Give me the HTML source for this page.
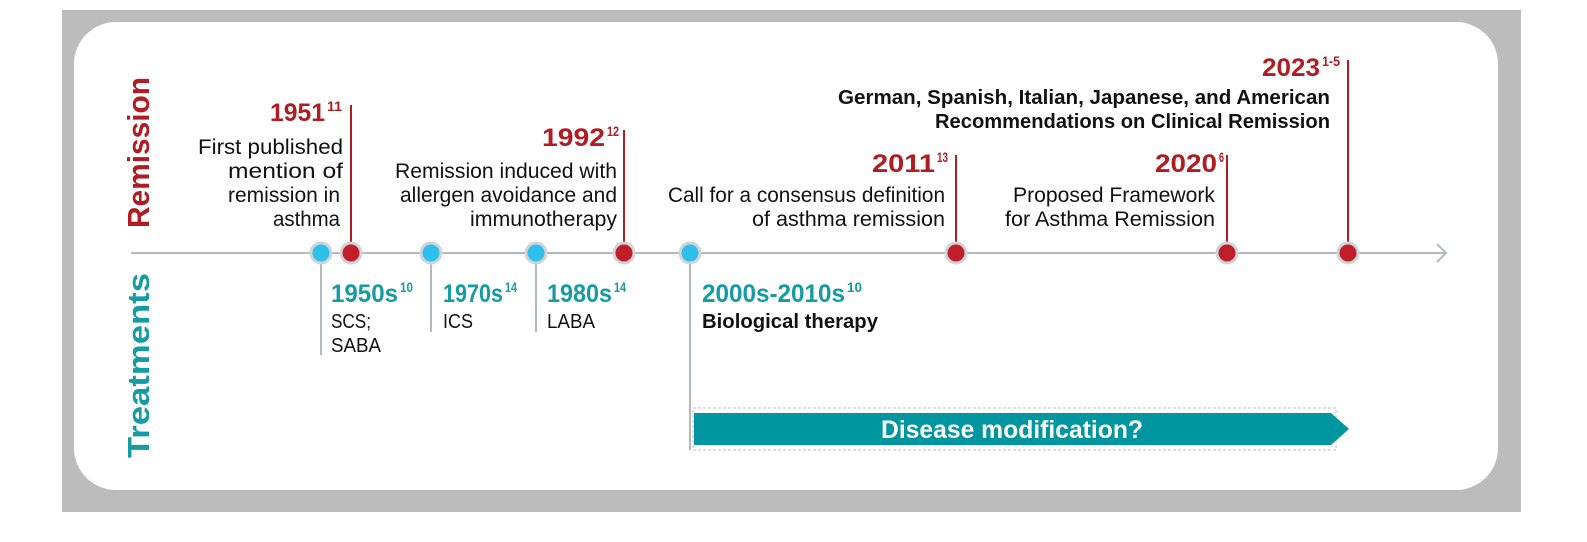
<!DOCTYPE html>
<html><head><meta charset="utf-8"><style>
html,body{margin:0;padding:0;background:#fff;width:1587px;height:542px;overflow:hidden}
svg{display:block;font-family:"Liberation Sans",Arial,sans-serif}
</style></head><body>
<svg id="tl" width="1587" height="542" viewBox="0 0 1587 542" xmlns="http://www.w3.org/2000/svg">
<rect x="62" y="10" width="1459" height="502" fill="#bcbcbc"/>
<rect x="74" y="22" width="1424" height="468" rx="42" fill="#fff"/>
<text transform="translate(149,228) rotate(-90)" textLength="151" lengthAdjust="spacingAndGlyphs" font-size="31" font-weight="bold" fill="#b01c22">Remission</text>
<text transform="translate(149,458) rotate(-90)" textLength="185" lengthAdjust="spacingAndGlyphs" font-size="31" font-weight="bold" fill="#149ba3">Treatments</text>
<line x1="131" y1="253" x2="1445" y2="253" stroke="#b4b9bd" stroke-width="2"/>
<polyline points="1437,244 1446,253 1437,262" fill="none" stroke="#b4b9bd" stroke-width="2"/>
<g id="stems"></g>
<g>
<rect x="693" y="408" width="643" height="42" fill="none" stroke="#b8c4c8" stroke-width="1" stroke-dasharray="3,2"/>
<polygon points="694,413 1331,413 1349,429 1331,445 694,445" fill="#0096a0"/>
<text x="1012" y="438" text-anchor="middle" textLength="262" lengthAdjust="spacingAndGlyphs" font-size="25" font-weight="bold" fill="#fff">Disease modification?</text>
</g>
<g id="dots"></g>
<g id="labels"></g>
</svg>
<script>
// Remission events (red, above axis)
const remYears=["1951","1992","2011","2020","2023"];
const remRefs=["11","12","13","6","1-5"];
const remX=[351,624,956,1227,1348];
const remTop=[105,130,155,155,60];
// Treatment events (blue, below axis)
const trtYears=["1950s","1970s","1980s","2000s-2010s"];
const trtRefs=["10","14","14","10"];
const trtX=[321,431,536,690];
const trtBottom=[355,332,332,450];

const NS="http://www.w3.org/2000/svg";
const stems=document.getElementById('stems'),dots=document.getElementById('dots'),labels=document.getElementById('labels');
function mk(tag,attrs,parent){const e=document.createElementNS(NS,tag);for(const k in attrs)e.setAttribute(k,attrs[k]);parent.appendChild(e);return e;}
const AY=253;
remX.forEach((x,i)=>{
  const l=mk('line',{x1:x,y1:remTop[i],x2:x,y2:AY,stroke:'#b01c22','stroke-width':2},stems);
  
  
  const c=mk('circle',{cx:x,cy:AY,r:10,fill:'#c01e28',stroke:'#d0d4d8','stroke-width':3},dots);
  
  
});
trtX.forEach((x,i)=>{
  const l=mk('line',{x1:x,y1:AY,x2:x,y2:trtBottom[i],stroke:'#b4b9bd','stroke-width':2},stems);
  
  
  const c=mk('circle',{cx:x,cy:AY,r:10,fill:'#2ec0ea',stroke:'#d0d4d8','stroke-width':3},dots);
  
  
});
// text helper: [text, x1, x2, baseline, size, bold, color, anchor]
function txt(s,x1,x2,y,size,bold,color,name){
  const t=mk('text',{x:x1,y:y,'font-size':size,'font-weight':bold?'bold':'normal',fill:color,textLength:x2-x1,lengthAdjust:'spacingAndGlyphs'},labels);
  t.textContent=s;
  
  
}
const RED='#b01c22',TEAL='#149ba3',BLK='#111';
// remission year headings with superscripts
const remYX=[[270,325,327,342,121],[542,605,607,619,146],[872,935,937,948,172],[1155,1217,1219,1224,172],[1262,1320,1322,1340,76]];
remYX.forEach((p,i)=>{
  txt(remYears[i],p[0],p[1],p[4],25,true,RED,'remission-year-'+remYears[i]);
  txt(remRefs[i],p[2],p[3],p[4]-10,14,true,RED,'remission-ref-'+remYears[i]);
});
txt("First  published",198,343,154,21,false,BLK,'desc-1951-line1');
txt("mention   of",228,343,178,21,false,BLK,'desc-1951-line2');
txt("remission in",228,340,202,21,false,BLK,'desc-1951-line3');
txt("asthma",273,340,226,21,false,BLK,'desc-1951-line4');
txt("Remission induced with",395,617,178,21,false,BLK,'desc-1992-line1');
txt("allergen avoidance and",400,617,202,21,false,BLK,'desc-1992-line2');
txt("immunotherapy",470,617,226,21,false,BLK,'desc-1992-line3');
txt("Call for a consensus definition",668,945,202,21,false,BLK,'desc-2011-line1');
txt("of asthma remission",752,945,226,21,false,BLK,'desc-2011-line2');
txt("Proposed Framework",1013,1215,202,21,false,BLK,'desc-2020-line1');
txt("for Asthma Remission",1005,1215,226,21,false,BLK,'desc-2020-line2');
txt("German, Spanish, Italian, Japanese, and American",838,1330,104,20,true,BLK,'desc-2023-line1');
txt("Recommendations on Clinical Remission",935,1330,128,20,true,BLK,'desc-2023-line2');
// treatment headings
const trtYX=[[331,398,400,413],[443,503,505,517],[547,612,614,626],[702,845,847,862]];
trtYX.forEach((p,i)=>{
  txt(trtYears[i],p[0],p[1],302,25,true,TEAL,'treatment-year-'+trtYears[i]);
  txt(trtRefs[i],p[2],p[3],292,14,true,TEAL,'treatment-ref-'+trtYears[i]);
});
txt("SCS;",331,371,328,20,false,BLK,'treatment-1950s-line1');
txt("SABA",331,381,352,20,false,BLK,'treatment-1950s-line2');
txt("ICS",443,473,328,20,false,BLK,'treatment-1970s-line1');
txt("LABA",547,595,328,20,false,BLK,'treatment-1980s-line1');
txt("Biological therapy",702,878,328,20,true,BLK,'treatment-2000s-line1');
</script>
</body></html>
